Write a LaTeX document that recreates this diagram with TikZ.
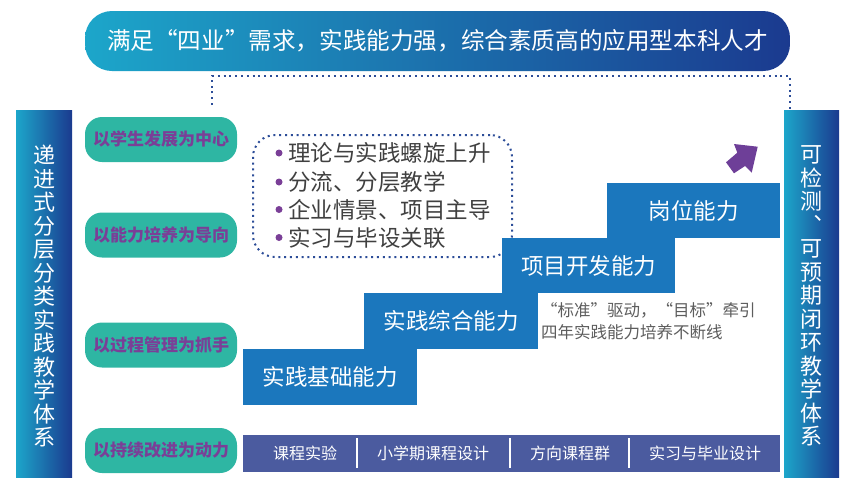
\documentclass[tikz,border=0pt]{standalone}
\usepackage{fontspec}
\setmainfont{Noto Sans CJK SC}
\definecolor{stepblue}{HTML}{1B77BD}
\definecolor{barpurple}{HTML}{4B5B9F}
\definecolor{tealg}{HTML}{2EB6A3}
\definecolor{txtpurple}{HTML}{7A3F97}
\definecolor{arrowpurple}{HTML}{6E3F98}
\definecolor{gcyan}{HTML}{1CA6CA}
\definecolor{gdark}{HTML}{1B3A8F}
\definecolor{dotblue}{HTML}{2C4D98}
\definecolor{graytxt}{HTML}{404040}
\newcommand\myfs[1]{\fontsize{#1}{#1}\selectfont}
\newcommand\myoq{\makebox[1em][r]{“}}
\newcommand\mycq{\makebox[1em][l]{”}}
\tikzset{
  gradbox/.style={left color=gcyan, right color=gdark, inner sep=0pt, text=white},
  vbartext/.style={text=white, align=center, font=\fontsize{22}{23.5}\selectfont},
  greenbox/.style={fill=tealg, rounded corners=17pt, inner sep=0pt, minimum width=152pt, minimum height=45pt, text=txtpurple, font=\myfs{17}\bfseries},
  stepbox/.style={fill=stepblue, inner sep=0pt, text=white, font=\myfs{22.5}},
  dotline/.style={draw=dotblue, line width=2pt, dash pattern=on 2pt off 3.8pt},
  bullettext/.style={anchor=west, inner sep=0pt, text=graytxt, font=\myfs{22.5}},
  bulletdot/.style={circle, fill=txtpurple, inner sep=0pt, minimum size=7pt},
  bartext/.style={text=white, inner sep=0pt, font=\myfs{16}},
  septext/.style={draw=white, line width=1.5pt},
  annot/.style={anchor=west, inner sep=0pt, text=graytxt!85, font=\myfs{16.5}},
}
\begin{document}
\begin{tikzpicture}[x=1pt,y=-1pt]
\useasboundingbox (0,0) rectangle (848,488);
% banner
\node[gradbox, rounded corners=27pt, minimum width=705pt, minimum height=60pt, font=\myfs{23.6}] (banner) at (437.5,41)
  {满足\myoq 四业\mycq 需求，实践能力强，综合素质高的应用型本科人才};
% side bars
\node[gradbox, minimum width=56pt, minimum height=367pt] (lbar) at (44,293.5) {};
\node[vbartext] (ltext) at (44,296) {递\\进\\式\\分\\层\\分\\类\\实\\践\\教\\学\\体\\系};
\node[gradbox, minimum width=55pt, minimum height=367pt] (rbar) at (811.5,293.5) {};
\node[vbartext] (rtext) at (811.5,296) {可\\检\\测\\︑\\可\\预\\期\\闭\\环\\教\\学\\体\\系};
% dotted connector
\coordinate (dl) at (212,105);
\coordinate (dr) at (790,110);
\draw[dotline] (dl) -- ++(0,-29) -| (dr);
% green boxes
\node[greenbox] (g1) at (161,139.5) {以学生发展为中心};
\node[greenbox] (g2) at (161,235) {以能力培养为导向};
\node[greenbox] (g3) at (161,345) {以过程管理为抓手};
\node[greenbox] (g4) at (161,450.5) {以持续改进为动力};
% dotted rounded box with bullets
\node[dotline, rounded corners=22pt, minimum width=259pt, minimum height=122pt, inner sep=0pt] (dbox) at (382.5,196) {};
\node[bulletdot] (b1) at (279,153) {};
\node[bulletdot] (b2) at (279,182) {};
\node[bulletdot] (b3) at (279,209.5) {};
\node[bulletdot] (b4) at (279,237.5) {};
\node[bullettext] (t1) at (288,153) {理论与实践螺旋上升};
\node[bullettext] (t2) at (288,182) {分流、分层教学};
\node[bullettext] (t3) at (288,209.5) {企业情景、项目主导};
\node[bullettext] (t4) at (288,237.5) {实习与毕设关联};
% steps
\node[stepbox, minimum width=174pt, minimum height=56pt] (s1) at (330,377) {实践基础能力};
\node[stepbox, minimum width=174pt, minimum height=56pt] (s2) at (451,321) {实践综合能力};
\node[stepbox, minimum width=173pt, minimum height=55pt] (s3) at (588.5,265.5) {项目开发能力};
\node[stepbox, minimum width=173pt, minimum height=55pt] (s4) at (693.5,210.5) {岗位能力};
% annotation
\node[annot] (a1) at (541,310) {\myoq 标准\mycq 驱动，\myoq 目标\mycq 牵引};
\node[annot] (a2) at (541,332) {四年实践能力培养不断线};
% arrow
\fill[arrowpurple] (734,144) -- (757.7,146.7) -- (751.7,172.7) -- (745,166) -- (734,173.3) -- (726,162.3) -- (737.3,152.7) -- cycle;
% bottom bar
\node[fill=barpurple, minimum width=537pt, minimum height=37pt, inner sep=0pt] (bbar) at (511.5,453.5) {};
\node[bartext] (c1) at (305,453) {课程实验};
\node[bartext] (c2) at (433,453) {小学期课程设计};
\node[bartext] (c3) at (570,453) {方向课程群};
\node[bartext] (c4) at (705,453) {实习与毕业设计};
\draw[septext] (357,438) -- (357,468);
\draw[septext] (510,438) -- (510,468);
\draw[septext] (629,438) -- (629,468);
\end{tikzpicture}
\end{document}
